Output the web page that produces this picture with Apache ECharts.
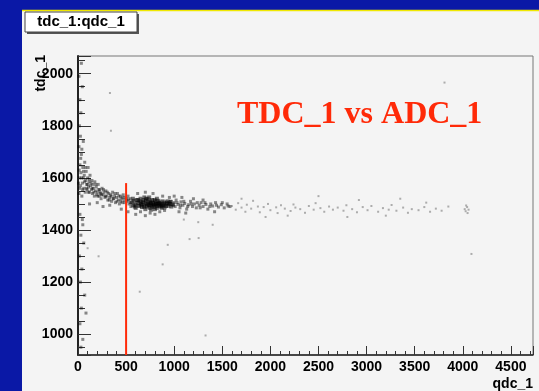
<!DOCTYPE html>
<html>
<head>
<meta charset="utf-8">
<style>
html, body { margin: 0; padding: 0; background: #0a18a6; }
#main { width: 539px; height: 391px; }
</style>
<script src="https://cdn.jsdelivr.net/npm/echarts@6/dist/echarts.min.js"></script>
</head>
<body>
<div id="main"></div>
<script>
// tdc_1 vs qdc_1 scatter
var xRange = [0, 4730];
var yRange = [920, 2068];

// dark blob around qdc 550-1000
var corePoints = [
    [560,1505],[580,1512],[600,1498],[610,1515],[620,1503],[635,1492],[640,1510],[650,1520],
    [660,1500],[665,1488],[675,1507],[680,1515],[690,1495],[700,1503],[705,1512],[715,1490],
    [720,1500],[725,1518],[735,1505],[740,1495],[745,1485],[750,1510],[760,1500],[765,1492],
    [770,1515],[780,1503],[785,1488],[790,1498],[800,1510],[805,1495],[815,1502],[820,1485],
    [830,1500],[835,1512],[845,1494],[850,1505],[860,1490],[870,1500],[880,1510],[890,1495],
    [900,1487],[910,1500],[925,1505],[940,1493],[955,1500],[970,1490],[985,1498],[700,1480],
    [760,1478],[820,1520],[650,1495],[600,1485],[575,1495],[690,1525],[740,1525],[800,1480],
    [870,1485],[930,1510],
    [570,1520],[590,1490],[625,1515],[655,1505],[685,1490],[710,1520],[730,1495],[755,1505],
    [775,1495],[795,1515],[810,1500],[825,1492],[840,1505],[855,1498],[875,1493],[895,1505],
    [915,1492],[945,1502],[965,1508]
];

// band along the curve
var bandPoints = [
    [10,1540],[15,1600],[20,1650],[25,1570],[30,1620],[35,1690],[40,1530],[45,1580],[50,1640],
    [55,1600],[60,1560],[65,1610],[70,1660],[75,1545],[80,1590],[85,1625],[90,1575],[95,1555],
    [100,1600],[105,1640],[110,1565],[115,1585],[120,1545],[125,1610],[130,1570],[140,1555],
    [145,1590],[150,1540],[155,1575],[160,1560],[170,1530],[175,1585],[180,1550],[190,1565],
    [195,1535],[200,1545],[210,1575],[220,1530],[225,1555],[235,1540],[240,1520],[250,1560],
    [260,1535],[270,1545],[280,1525],[290,1550],[300,1530],[310,1515],[320,1540],[330,1525],
    [340,1535],[350,1510],[360,1545],[370,1520],[380,1530],[390,1505],[400,1525],[410,1540],
    [420,1515],[430,1500],[440,1530],[450,1520],[460,1505],[470,1535],[480,1515],[490,1525],
    [510,1510],[520,1530],[530,1500],[540,1520],[550,1490],
    [5,1580],[12,1630],[18,1560],[28,1675],[38,1600],[48,1555],[58,1625],[68,1585],[78,1640],
    [88,1560],[98,1575],[108,1545],[118,1595],[135,1580],[148,1560],[165,1545],[185,1575],
    [205,1530],[215,1555],[230,1545],[245,1535],[265,1555],[285,1530],[305,1545],[325,1515],
    [345,1530],[365,1520],[385,1540],[405,1510],[425,1530],[445,1510],[465,1525],[485,1505],
    [505,1520],[525,1515],[545,1505],
    [120,1500],[200,1505],[260,1490],[330,1495],[450,1480],[520,1470],[600,1460],[650,1470],
    [700,1455],[750,1465],[800,1460],[850,1470],[900,1475],[620,1540],[700,1545],[780,1540],
    [880,1530],[950,1525],
    [1000,1505],[1010,1490],[1020,1515],[1040,1498],[1060,1485],[1070,1508],[1090,1495],
    [1110,1502],[1130,1480],[1150,1497],[1170,1510],[1190,1490],[1210,1500],[1230,1485],
    [1260,1495],[1280,1505],[1300,1490],[1330,1498],[1350,1480],[1380,1500],[1400,1492],
    [1430,1505],[1460,1488],[1490,1497],[1520,1485],[1550,1500],[1580,1490],[1050,1470],
    [1120,1465],[1200,1520],[1300,1515],[1420,1470],[1000,1530],[1080,1525],
    [960,1510],[990,1495],[1030,1505],[1065,1495],[1100,1510],[1140,1490],[1180,1500],
    [1240,1505],[1270,1485],[1320,1505],[1370,1490],[1440,1495],[1500,1505],[1560,1492],
    [10,1720],[25,1760],[40,1710],[15,1800],[55,1740],[30,1850],[20,1900],[45,1950],[10,1990],
    [35,2040],
    [20,1460],[50,1420],[30,1380],[60,1350],[15,1300],[40,1250],[25,1200],[70,1150],[35,1100],
    [83,1081],[20,1040],[50,980],[30,950],[45,1440]
];

// thin tail out to qdc ~4100
var tailPoints = [
    [1600,1492],[1640,1478],[1665,1503],[1700,1486],[1740,1470],[1755,1497],[1800,1482],
    [1820,1512],[1870,1490],[1890,1468],[1930,1488],[1975,1500],[2000,1476],[2060,1487],
    [2075,1465],[2110,1495],[2150,1482],[2210,1473],[2240,1498],[2260,1486],[2310,1480],
    [2360,1466],[2400,1492],[2450,1478],[2470,1503],[2520,1484],[2560,1470],[2610,1490],
    [2650,1478],[2700,1486],[2760,1474],[2790,1495],[2850,1480],[2900,1468],[2960,1488],
    [3010,1476],[3050,1492],[3120,1470],[3170,1484],[3230,1478],[3260,1496],[3310,1474],
    [3380,1486],[3430,1466],[3470,1480],[3540,1476],[3600,1488],[3660,1470],[3720,1482],
    [3780,1474],[3850,1490],[4020,1480],[4030,1472],[4045,1488],[4050,1465],[4060,1478],
    [4035,1494],[2500,1530],[2920,1515],[3200,1455],[1950,1450],[3350,1520],[2180,1455],
    [3620,1505],[1700,1520],[2800,1450]
];

var outlierPoints = [
    [332,1926],[342,1781],[214,1299],[880,1268],[642,1163],[933,1343],[1160,1365],[1254,1369],
    [1326,995],[3810,1966],[4090,1308],[100,1330],[1400,1420],[1250,1430],[1100,1440]
];

// red cut line
var cutX = 500;
var cutY = [920, 1580];

var chart = echarts.init(document.getElementById('main'), null, { renderer: 'canvas' });

var labelFont = {
    color: '#000',
    fontFamily: 'Liberation Sans',
    fontWeight: 'bold',
    fontSize: 14
};

function plain(v) {
    return String(v);
}

var option = {
    backgroundColor: '#0a18a6',
    animation: false,
    graphic: [
        { type: 'rect', z: -10, shape: { x: 22, y: 10, width: 517, height: 381 }, style: { fill: '#f4f4f4' } },
        { type: 'line', z: -9, shape: { x1: 22, y1: 10.5, x2: 539, y2: 10.5 }, style: { stroke: '#f0e800', lineWidth: 1.5 } },
        { type: 'rect', shape: { x: 27, y: 14, width: 112, height: 20 }, style: { fill: '#555' } },
        { type: 'rect', shape: { x: 25, y: 12, width: 112, height: 20 }, style: { fill: '#fff', stroke: '#444', lineWidth: 1 } },
        { type: 'text', x: 81, y: 22, style: { text: 'tdc_1:qdc_1', align: 'center', verticalAlign: 'middle', font: 'bold 15px "Liberation Sans"', fill: '#000' } },
        { type: 'text', x: 41, y: 55, rotation: Math.PI / 2, style: { text: 'tdc_1', align: 'right', verticalAlign: 'middle', font: 'bold 14px "Liberation Sans"', fill: '#000' } },
        { type: 'text', x: 237, y: 99, z: 100, style: { text: 'TDC_1 vs ADC_1', align: 'left', verticalAlign: 'top', font: 'bold 32px "Liberation Serif"', fill: '#ff2a08' } }
    ],
    grid: {
        left: 78, right: 6, top: 56, bottom: 28,
        show: true, backgroundColor: '#f4f4f4', borderColor: '#777', borderWidth: 1
    },
    xAxis: {
        type: 'value',
        min: xRange[0], max: xRange[1],
        splitNumber: 10,
        name: 'qdc_1',
        nameLocation: 'end',
        nameGap: 0,
        nameTextStyle: Object.assign({ align: 'right', verticalAlign: 'top', padding: [22, 0, 0, 0] }, labelFont),
        axisLine: { lineStyle: { color: '#222', width: 1.5 } },
        axisTick: { inside: true, length: 9, lineStyle: { color: '#333' } },
        minorTick: { show: true, splitNumber: 5, length: 4, lineStyle: { color: '#333' } },
        axisLabel: Object.assign({ margin: 5, showMaxLabel: false, formatter: plain }, labelFont),
        splitLine: { show: false }
    },
    yAxis: {
        type: 'value',
        min: yRange[0], max: yRange[1],
        splitNumber: 5,
        axisLine: { show: true, lineStyle: { color: '#222', width: 2 } },
        axisTick: { show: true, inside: true, length: 13, lineStyle: { color: '#333' } },
        minorTick: { show: true, splitNumber: 4, length: 7, lineStyle: { color: '#333' } },
        axisLabel: Object.assign({ margin: 5, showMinLabel: false, showMaxLabel: false, formatter: plain }, labelFont),
        splitLine: { show: false }
    },
    series: [
        {
            name: 'tail', type: 'scatter', symbol: 'rect', symbolSize: 2,
            itemStyle: { color: '#9a9a9a' }, data: tailPoints
        },
        {
            name: 'outliers', type: 'scatter', symbol: 'rect', symbolSize: 2,
            itemStyle: { color: '#9a9a9a' }, data: outlierPoints
        },
        {
            name: 'band', type: 'scatter', symbol: 'rect', symbolSize: 3,
            itemStyle: { color: '#000', opacity: 0.45 }, data: bandPoints
        },
        {
            name: 'core', type: 'scatter', symbol: 'rect', symbolSize: 4,
            itemStyle: { color: '#000', opacity: 0.55 }, data: corePoints
        },
        {
            name: 'cut', type: 'line', symbol: 'none', z: 5,
            lineStyle: { color: '#ff2a08', width: 2 },
            data: [[cutX, cutY[0]], [cutX, cutY[1]]]
        }
    ]
};

chart.setOption(option);
</script>
</body>
</html>
